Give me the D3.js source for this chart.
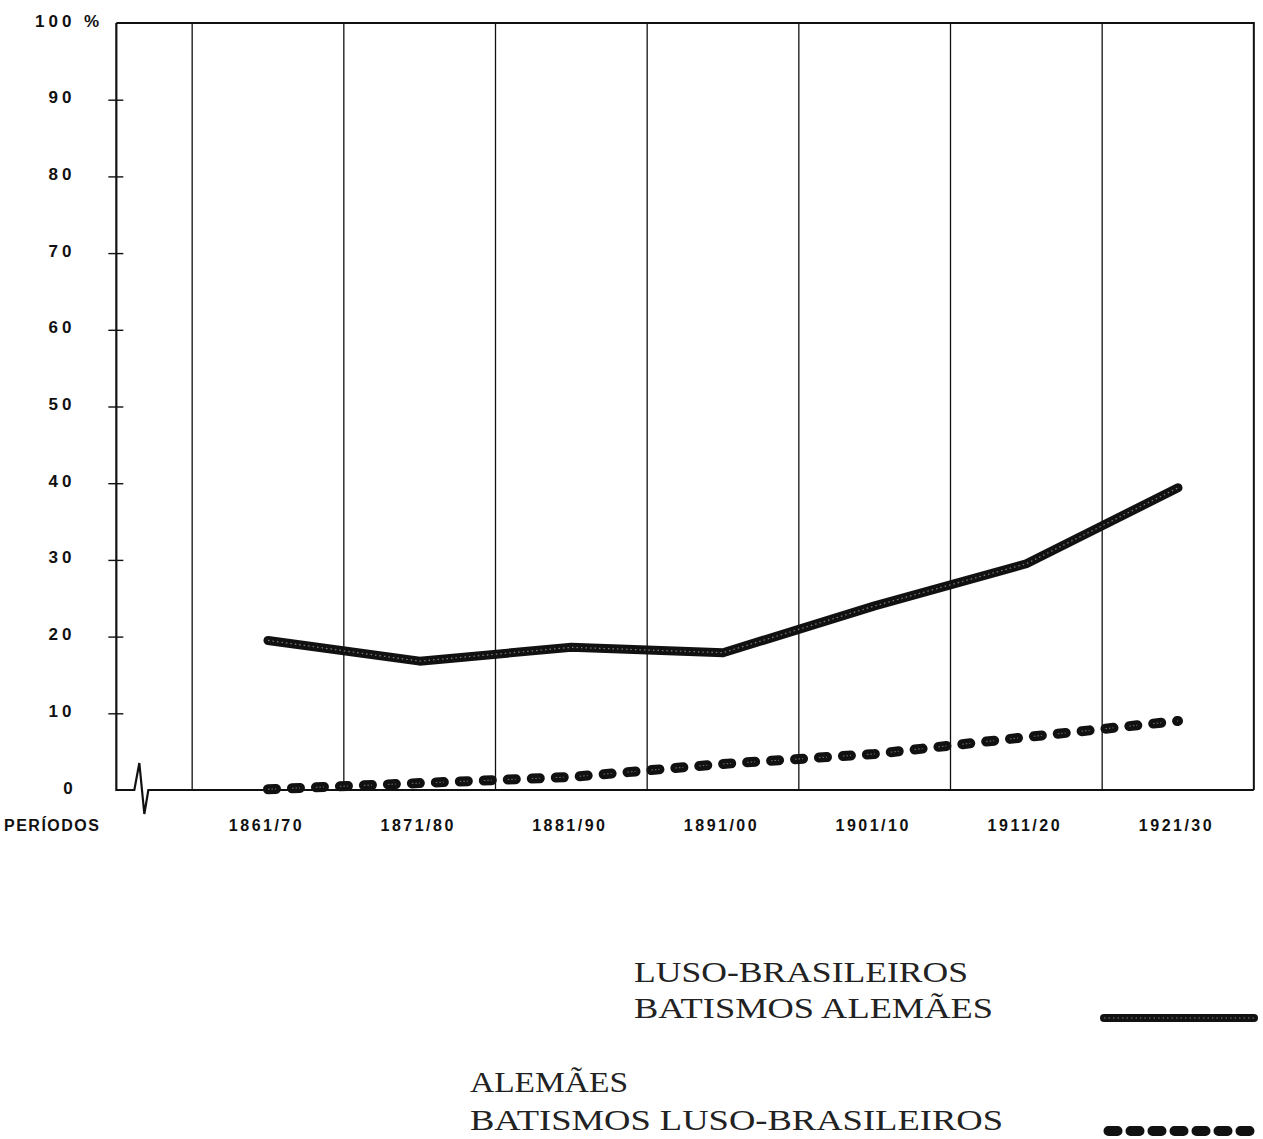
<!DOCTYPE html>
<html>
<head>
<meta charset="utf-8">
<script src="https://cdn.jsdelivr.net/npm/d3@7"></script>
<style>
html,body{margin:0;padding:0;background:#fff;}
svg{display:block;}
</style>
</head>
<body>
<svg id="chart" width="1263" height="1139"></svg>
<script>
const categories = ["1861/70","1871/80","1881/90","1891/00","1901/10","1911/20","1921/30"];
const lusoPct = [19.5, 16.8, 18.6, 17.9, 24.0, 29.5, 39.4];   // Luso-brasileiros / batismos alemães
const alemPct = [0.1, 0.9, 1.7, 3.4, 4.7, 6.9, 9.0];          // Alemães / batismos luso-brasileiros
const yTicks = [0,10,20,30,40,50,60,70,80,90,100];
const yTickLabels = ["0","10","20","30","40","50","60","70","80","90","100 %"];
const xTitle = "PERÍODOS";
const legendA = ["LUSO-BRASILEIROS","BATISMOS ALEMÃES"];
const legendB = ["ALEMÃES","BATISMOS LUSO-BRASILEIROS"];

const svg = d3.select("#chart");
const ink = "#111";
const sans = "'Liberation Sans', Arial, sans-serif";

const x = d3.scalePoint().domain(categories).range([268, 1178]);
const step = x.step();
const y = d3.scaleLinear().domain([0,100]).range([790, 23]);

const xLeft = x(categories[0]) - step;
const xRight = x(categories[categories.length-1]) + step/2;
const y0 = y(0), yTop = y(100);

// vertical grid lines
svg.append("g").selectAll("line").data(categories).join("line")
  .attr("x1", d => x(d) - step/2).attr("x2", d => x(d) - step/2)
  .attr("y1", yTop).attr("y2", y0)
  .attr("stroke", ink).attr("stroke-width", 1.3);

// frame: top and right
svg.append("path")
  .attr("d", `M${xLeft},${yTop} H${xRight} V${y0}`)
  .attr("fill","none").attr("stroke", ink).attr("stroke-width", 2);

// left axis + broken baseline
svg.append("path")
  .attr("d", `M${xLeft},${yTop} V${y0} H${xLeft+18} L${xLeft+23},${y0-27} L${xLeft+28},${y0+24} L${xLeft+32},${y0} H${xRight}`)
  .attr("fill","none").attr("stroke", ink).attr("stroke-width", 2.2).attr("stroke-linejoin","miter");

// y axis ticks and labels
const yAxis = d3.axisLeft(y).tickValues(yTicks).tickSizeInner(8).tickSizeOuter(0)
  .tickFormat((d,i) => yTickLabels[i]);
const gy = svg.append("g").attr("transform", `translate(${xLeft},0)`).call(yAxis);
gy.select(".domain").remove();
gy.selectAll(".tick line")
  .attr("x1", 7).attr("x2", -8)
  .attr("stroke", ink).attr("stroke-width", 1.4)
  .attr("display", d => (d === 0 || d === 100) ? "none" : null);
gy.selectAll(".tick text")
  .style("font-family", sans).style("font-weight", "bold").style("font-size", "17px")
  .style("letter-spacing", "4px")
  .attr("fill", ink)
  .attr("text-anchor", d => d === 100 ? "start" : "middle")
  .attr("x", d => d === 100 ? 35 - xLeft : (d === 0 ? 70 - xLeft : 62 - xLeft))
  .attr("dy", null)
  .attr("y", 3);

// x axis labels
const xAxis = d3.axisBottom(x).tickSize(0).tickPadding(0);
const gx = svg.append("g").attr("transform", `translate(0,${y0})`).call(xAxis);
gx.select(".domain").remove();
gx.selectAll(".tick text")
  .style("font-family", sans).style("font-weight", "bold").style("font-size", "16px")
  .style("letter-spacing", "2.5px")
  .attr("fill", ink)
  .attr("x", -2).attr("dy", null).attr("y", 41);

svg.append("text").text(xTitle)
  .attr("x", 4).attr("y", 831)
  .style("font-family", sans).style("font-weight", "bold")
  .style("font-size", "16px").style("letter-spacing", "1.5px").attr("fill", ink);

// series
const line = d3.line().x((d,i) => x(categories[i])).y(d => y(d));

// solid textured line
svg.append("path").datum(lusoPct).attr("d", line)
  .attr("fill","none").attr("stroke", ink).attr("stroke-width", 9)
  .attr("stroke-linecap","round").attr("stroke-linejoin","round");
svg.append("path").datum(lusoPct).attr("d", line)
  .attr("fill","none").attr("stroke", "#9a9a9a").attr("stroke-width", 1.2)
  .attr("stroke-dasharray","1.5,3").attr("opacity", 0.8);

// pill-dashed line
svg.append("path").datum(alemPct).attr("d", line)
  .attr("fill","none").attr("stroke", ink).attr("stroke-width", 10)
  .attr("stroke-linecap","round").attr("stroke-linejoin","round")
  .attr("stroke-dasharray","8,16");
svg.append("path").datum(alemPct).attr("d", line)
  .attr("fill","none").attr("stroke", "#a0a0a0").attr("stroke-width", 1)
  .attr("stroke-dasharray","1.5,2,1.5,2,1,16").attr("opacity", 0.7);

// legend
const serif = "'Liberation Serif', 'Times New Roman', serif";
function legendText(lines, x0, baselines, widths){
  lines.forEach((t,i) => {
    svg.append("text").text(t)
      .attr("x", x0).attr("y", baselines[i])
      .style("font-family", serif).style("font-size", "30px")
      .attr("fill", "#222")
      .attr("textLength", widths[i]).attr("lengthAdjust","spacingAndGlyphs");
  });
}
legendText(legendA, 634, [982, 1018], [334, 359]);
legendText(legendB, 470, [1092, 1130], [158, 533]);

// legend swatches
svg.append("line").attr("x1", 1104).attr("x2", 1254).attr("y1", 1018).attr("y2", 1018)
  .attr("stroke", ink).attr("stroke-width", 8).attr("stroke-linecap","round");
svg.append("line").attr("x1", 1104).attr("x2", 1254).attr("y1", 1018).attr("y2", 1018)
  .attr("stroke", "#9a9a9a").attr("stroke-width", 1).attr("stroke-dasharray","1.5,3").attr("opacity",0.8);
svg.append("line").attr("x1", 1108.5).attr("x2", 1256).attr("y1", 1131).attr("y2", 1131)
  .attr("stroke", ink).attr("stroke-width", 10).attr("stroke-linecap","round")
  .attr("stroke-dasharray","9,13");
</script>
</body>
</html>
